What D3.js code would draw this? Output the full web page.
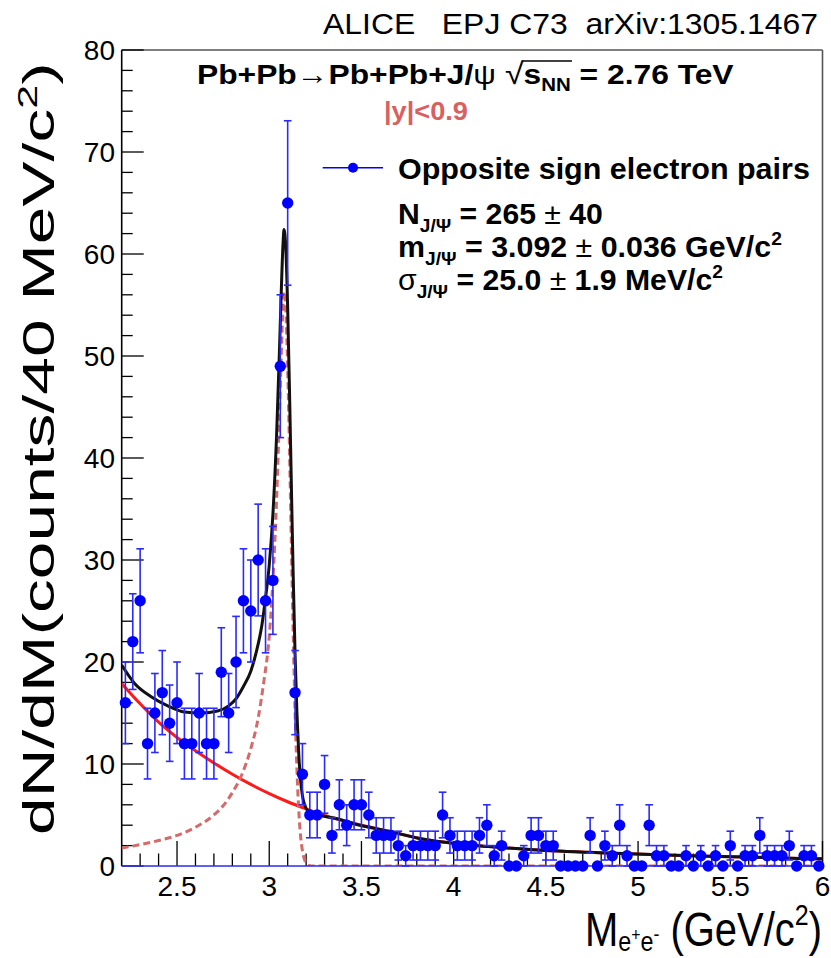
<!DOCTYPE html>
<html>
<head>
<meta charset="utf-8">
<script src="https://cdn.jsdelivr.net/npm/d3@7"></script>
<style>
  html, body { margin: 0; padding: 0; background: #fff; }
  svg text { font-family: "Liberation Sans", Arial, sans-serif; white-space: pre; }
</style>
</head>
<body>
<svg id="chart" width="831" height="958"></svg>
<script>
// ---------------- DATA ----------------
const binCenters = [2.22,2.26,2.30,2.34,2.38,2.42,2.46,2.50,2.54,2.58,2.62,2.66,2.70,2.74,2.78,2.82,2.86,2.90,2.94,2.98,
  3.02,3.06,3.10,3.14,3.18,3.22,3.26,3.30,3.34,3.38,3.42,3.46,3.50,3.54,3.58,3.62,3.66,3.70,3.74,3.78,
  3.82,3.86,3.90,3.94,3.98,4.02,4.06,4.10,4.14,4.18,4.22,4.26,4.30,4.34,4.38,4.42,4.46,4.50,4.54,4.58,
  4.62,4.66,4.70,4.74,4.78,4.82,4.86,4.90,4.94,4.98,5.02,5.06,5.10,5.14,5.18,5.22,5.26,5.30,5.34,5.38,
  5.42,5.46,5.50,5.54,5.58,5.62,5.66,5.70,5.74,5.78,5.82,5.86,5.90,5.94,5.98];
const counts = [16,22,26,12,15,17,14,16,12,12,15,12,12,19,15,20,26,25,30,26,
  28,49,65,17,9,5,5,8,3,6,4,6,6,5,3,3,3,2,1,2,
  2,2,2,5,3,2,2,2,3,4,1,2,0,0,1,3,3,2,2,0,
  0,0,0,3,0,2,1,4,1,0,0,4,1,1,0,0,1,0,1,0,
  1,0,2,0,1,1,3,1,1,1,2,0,1,1,0];

// total fit (black)
const totalMass = [2.20,2.27,2.36,2.45,2.54,2.63,2.72,2.78,2.82,2.86,2.90,2.93,2.96,2.98,3.00,3.02,3.04,3.055,3.065,3.075,
  3.08,3.09,3.10,3.11,3.12,3.13,3.14,3.15,3.16,3.17,3.18,3.19,3.20,3.22,3.29,3.35,3.47,3.65,3.83,4.01,
  4.19,4.43,4.79,5.15,5.51,5.93,6.00];
const totalFit = [19.7,17.9,16.6,15.7,15.1,15.0,15.2,15.7,16.4,17.6,19.1,21.0,23.6,26.3,29.5,34.5,42.3,50.3,56.2,61.1,
  62.4,60.5,54.7,46.5,37.3,28.4,20.8,15.1,11.0,8.4,6.9,6.1,5.65,5.3,4.9,4.7,4.1,3.4,2.65,2.2,
  1.9,1.6,1.3,1.08,0.91,0.72,0.70];

// background (red solid)
const bgMass = [2.20,2.30,2.40,2.50,2.60,2.70,2.80,2.90,3.00,3.10,3.20,3.30,3.40,3.50,3.65,3.83,4.01,4.19,4.43,4.79,5.15,5.51,5.93,6.00];
const bgFit  = [17.9,15.9,14.1,12.6,11.3,10.1,9.0,8.0,7.1,6.3,5.6,4.95,4.45,4.0,3.4,2.65,2.2,1.9,1.6,1.3,1.08,0.91,0.72,0.70];

// J/psi signal (red dashed)
const sigMass = [2.20,2.30,2.40,2.50,2.60,2.70,2.75,2.80,2.85,2.90,2.94,2.97,3.00,3.02,3.04,3.055,3.065,3.075,3.08,3.09,
  3.10,3.11,3.12,3.13,3.14,3.15,3.16,3.17,3.18,3.19,3.20,3.21,3.22,3.23,3.30,4.00,5.00,6.00];
const sigFit  = [1.75,2.1,2.5,3.0,3.8,5.0,5.9,7.2,8.9,11.5,14.5,18.0,22.5,28.0,36.0,44.0,50.0,55.0,56.3,54.5,
  48.8,40.7,31.5,22.7,15.2,9.5,5.5,2.9,1.5,0.7,0.3,0.1,0.03,0,0,0,0,0];

const xTickLabels = ["2.5","3","3.5","4","4.5","5","5.5","6"];
const xTickValues = [2.5,3,3.5,4,4.5,5,5.5,6];
const yTickValues = [0,10,20,30,40,50,60,70,80];

// ---------------- LAYOUT ----------------
const svg = d3.select("#chart");
const X0 = 121.7, X1 = 822.5, Y0 = 866, Y1 = 50;
const x = d3.scaleLinear().domain([2.2, 6.0]).range([X0, X1]);
const y = d3.scaleLinear().domain([0, 80]).range([Y0, Y1]);
const BLUE = "#0000ff";

svg.append("rect").attr("width", 831).attr("height", 958).attr("fill", "#fff");

svg.append("defs").append("clipPath").attr("id", "plotclip")
  .append("rect").attr("x", X0).attr("y", Y1).attr("width", X1 - X0).attr("height", Y0 - Y1);

// frame
svg.append("line").attr("x1", X0).attr("x2", X1).attr("y1", Y1).attr("y2", Y1).attr("stroke", "#555").attr("stroke-width", 1.6);
svg.append("line").attr("x1", X1).attr("x2", X1).attr("y1", Y1).attr("y2", Y0).attr("stroke", "#555").attr("stroke-width", 1.6);

// y axis ticks (inside)
const yAxisG = svg.append("g");
yAxisG.append("line").attr("x1", X0).attr("x2", X0).attr("y1", Y1).attr("y2", Y0).attr("stroke", "#000").attr("stroke-width", 1.6);
d3.range(0, 81, 2).forEach(v => {
  const major = v % 10 === 0;
  yAxisG.append("line").attr("x1", X0).attr("x2", X0 + (major ? 22 : 11))
    .attr("y1", y(v)).attr("y2", y(v)).attr("stroke", "#000").attr("stroke-width", 1.3);
});
yTickValues.forEach(v => {
  yAxisG.append("text").attr("x", 115).attr("y", y(v) + 10).attr("text-anchor", "end")
    .attr("font-size", 28).attr("fill", "#000").text(String(v));
});

// x axis ticks (inside)
const xAxisG = svg.append("g");
d3.range(23, 61).forEach(i => {
  const v = i / 10;
  const major = i % 5 === 0;
  xAxisG.append("line").attr("x1", x(v)).attr("x2", x(v))
    .attr("y1", Y0).attr("y2", Y0 - (major ? 25 : 12.5)).attr("stroke", "#000").attr("stroke-width", 1.3);
});
xTickValues.forEach((v, i) => {
  xAxisG.append("text").attr("x", x(v)).attr("y", 896).attr("text-anchor", "middle")
    .attr("font-size", 28).attr("fill", "#000").text(xTickLabels[i]);
});

// curves
const plot = svg.append("g").attr("clip-path", "url(#plotclip)");
const mkLine = d3.line().x(d => x(d[0])).y(d => y(d[1])).curve(d3.curveMonotoneX);
plot.append("path").datum(bgMass.map((m, i) => [m, bgFit[i]]))
  .attr("d", mkLine).attr("fill", "none").attr("stroke", "#ff1a1a").attr("stroke-width", 3);
plot.append("path").datum(sigMass.map((m, i) => [m, sigFit[i]]))
  .attr("d", mkLine).attr("fill", "none").attr("stroke", "#d46a6a").attr("stroke-width", 3)
  .attr("stroke-dasharray", "7,4");
plot.append("path").datum(totalMass.map((m, i) => [m, totalFit[i]]))
  .attr("d", mkLine).attr("fill", "none").attr("stroke", "#111").attr("stroke-width", 3);

// bottom axis line (blue as in reference)
svg.append("line").attr("x1", X0).attr("x2", X1).attr("y1", Y0).attr("y2", Y0).attr("stroke", "#2a2aff").attr("stroke-width", 1.6);

// data points
const dataG = svg.append("g");
binCenters.forEach((m, i) => {
  const c = counts[i];
  const cx = x(m);
  if (c > 0) {
    const e = Math.sqrt(c);
    const yt = y(c + e), yb = y(Math.max(0, c - e));
    dataG.append("line").attr("x1", cx).attr("x2", cx).attr("y1", yt).attr("y2", yb).attr("stroke", "#2a2aff").attr("stroke-width", 1.6);
    [yt, yb].forEach(yy => dataG.append("line").attr("x1", cx - 3.8).attr("x2", cx + 3.8).attr("y1", yy).attr("y2", yy)
      .attr("stroke", "#2a2aff").attr("stroke-width", 1.6));
  }
  dataG.append("circle").attr("cx", cx).attr("cy", y(c)).attr("r", 5.7).attr("fill", BLUE);
});

// --------------- TEXT helpers ---------------
function fitBlock(build, x0, x1, baseline, sy) {
  const outer = svg.append("g");
  const inner = outer.append("g");
  build(inner);
  const bb = inner.node().getBBox();
  const sx = (x1 - x0) / bb.width;
  outer.attr("transform", `translate(${x0},${baseline}) scale(${sx},${sy || 1}) translate(${-bb.x},0)`);
  return outer;
}
function addSeq(g, parts, fs, color) {
  const t = g.append("text").attr("x", 0).attr("y", 0).attr("font-size", fs).attr("fill", color || "#000");
  parts.forEach(p => {
    const ts = t.append("tspan").text(p.t);
    if (p.w) ts.attr("font-weight", p.w);
    if (p.s) ts.attr("font-size", p.s);
    if (p.dy) ts.attr("dy", p.dy);
  });
  return t;
}

// header
fitBlock(g => addSeq(g, [{t: "ALICE   EPJ C73  arXiv:1305.1467"}], 30), 323, 818, 34);

// title
fitBlock(g => {
  const t1 = addSeq(g, [
    {t: "Pb+Pb", w: "bold"}, {t: "\u2192", w: "normal"}, {t: "Pb+Pb+J/", w: "bold"}, {t: "\u03c8", w: "normal"}, {t: " "}
  ], 28);
  let xpos = t1.node().getComputedTextLength();
  const rad = g.append("text").attr("x", xpos).attr("y", 0).attr("font-size", 30).text("\u221a");
  xpos += rad.node().getComputedTextLength();
  const sN = addSeq(g, [{t: "s", w: "bold"}, {t: "NN", w: "bold", s: 18, dy: 7}], 28);
  sN.selectAll("tspan").filter((d, i) => i === 0).attr("x", xpos);
  const wsN = sN.node().getComputedTextLength();
  g.append("line").attr("x1", xpos - 1).attr("x2", xpos + wsN + 1).attr("y1", -23).attr("y2", -23)
    .attr("stroke", "#000").attr("stroke-width", 1.3);
  xpos += wsN;
  const t3 = addSeq(g, [{t: " = 2.76 TeV", w: "bold"}], 28);
  t3.select("tspan").attr("x", xpos);
}, 197, 734, 84);

// |y|<0.9
fitBlock(g => addSeq(g, [{t: "|y|<0.9", w: "bold"}], 26, "#d9605f"), 384, 468, 120);

// legend
svg.append("line").attr("x1", 322.7).attr("x2", 383).attr("y1", 167.7).attr("y2", 167.7).attr("stroke", BLUE).attr("stroke-width", 1.6);
svg.append("circle").attr("cx", 353).attr("cy", 167.7).attr("r", 5).attr("fill", BLUE);
fitBlock(g => addSeq(g, [{t: "Opposite sign electron pairs", w: "bold"}], 30), 398, 810, 179);

fitBlock(g => addSeq(g, [
  {t: "N", w: "bold"}, {t: "J/\u03a8", w: "bold", s: 19, dy: 8}, {t: " = 265 ", w: "bold", dy: -8},
  {t: "\u00b1", w: "normal"}, {t: " 40", w: "bold"}
], 30), 398, 603, 224);

fitBlock(g => addSeq(g, [
  {t: "m", w: "bold"}, {t: "J/\u03a8", w: "bold", s: 19, dy: 8}, {t: " = 3.092 ", w: "bold", dy: -8},
  {t: "\u00b1", w: "normal"}, {t: " 0.036 GeV/c", w: "bold"}, {t: "2", w: "bold", s: 19, dy: -12}
], 30), 398, 782, 257);

fitBlock(g => addSeq(g, [
  {t: "\u03c3", w: "normal"}, {t: "J/\u03a8", w: "bold", s: 19, dy: 8}, {t: " = 25.0 ", w: "bold", dy: -8},
  {t: "\u00b1", w: "normal"}, {t: " 1.9 MeV/c", w: "bold"}, {t: "2", w: "bold", s: 19, dy: -12}
], 30), 398, 723, 290);

// x title
fitBlock(g => addSeq(g, [
  {t: "M"}, {t: "e", s: 28, dy: 5}, {t: "+", s: 19, dy: -10}, {t: "e", s: 28, dy: 10}, {t: "-", s: 21, dy: -10},
  {t: " (GeV/c", dy: 5}, {t: "2", s: 30, dy: -21}, {t: ")", dy: 21}
], 48), 585, 822, 946);

// y title (rotated)
(function () {
  const outer = svg.append("g");
  const inner = outer.append("g");
  addSeq(inner, [{t: "dN/dM(counts/40 MeV/c"}, {t: "2", s: 28, dy: -17}, {t: ")", dy: 17}], 44);
  const bb = inner.node().getBBox();
  const sx = (835 - 62) / bb.width;
  outer.attr("transform", `translate(54,835) rotate(-90) scale(${sx},1) translate(${-bb.x},0)`);
})();
</script>
</body>
</html>
